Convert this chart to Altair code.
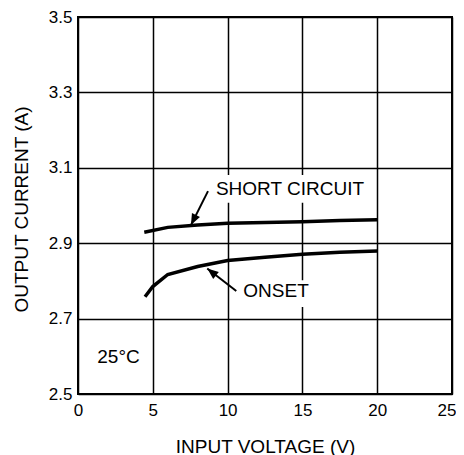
import altair as alt
import pandas as pd

# Curve data
sc_v = [4.43, 6.0, 8.0, 10.0, 12.5, 15.0, 17.5, 20.0]
sc_i = [2.929, 2.942, 2.948, 2.953, 2.955, 2.957, 2.960, 2.962]
on_v = [4.48, 5.0, 6.0, 8.0, 10.0, 12.5, 15.0, 17.5, 20.0]
on_i = [2.758, 2.785, 2.817, 2.838, 2.854, 2.863, 2.871, 2.876, 2.879]

x_ticks = [0, 5, 10, 15, 20, 25]
y_ticks = [2.5, 2.7, 2.9, 3.1, 3.3, 3.5]

# Annotations (data units)
labels = ["SHORT CIRCUIT", "ONSET", "25°C"]
label_x = [9.22, 11.05, 1.29]
label_y = [3.043, 2.774, 2.599]
box_x = [8.96, 10.7]
box_x2 = [19.5, 15.6]
box_y = [3.081, 2.802]
box_y2 = [3.007, 2.731]
arrow_tail_x = [8.69, 10.58]
arrow_tail_y = [3.038, 2.773]
arrow_tip_x = [7.55, 8.64]
arrow_tip_y = [2.948, 2.833]
arrow_angle = [206.6, 308.5]

FONT = "Liberation Sans"

curves = pd.DataFrame({
    "v": sc_v + on_v,
    "i": sc_i + on_i,
    "s": ["Short circuit"] * len(sc_v) + ["Onset"] * len(on_v),
})
texts = pd.DataFrame({"t": labels, "x": label_x, "y": label_y})
boxes = pd.DataFrame({"x": box_x, "x2": box_x2, "y": box_y, "y2": box_y2})
arrows = pd.DataFrame({"x": arrow_tail_x, "y": arrow_tail_y,
                       "x2": arrow_tip_x, "y2": arrow_tip_y, "a": arrow_angle})

xscale = alt.Scale(domain=[0, 25], nice=False, zero=False)
yscale = alt.Scale(domain=[2.5, 3.5], nice=False, zero=False)

xaxis = alt.Axis(values=x_ticks, title="INPUT VOLTAGE (V)", grid=True,
                 labelFlush=False, labelOverlap=False, labelBound=False,
                 labelAlign={"condition": {"test": "datum.value == 25", "value": "right"},
                             "value": "center"},
                 labelOffset={"condition": {"test": "datum.value == 25", "value": 4},
                              "value": 0},
                 tickSize=0, domain=False,
                 labelPadding=8, titleY=58, titleBaseline="alphabetic")
yaxis = alt.Axis(values=y_ticks, format=".1f", title="OUTPUT CURRENT (A)", grid=True,
                 labelFlush=False, labelOverlap=False, tickSize=0, domain=False,
                 labelPadding=6, titleX=-57, titleY=192, titleAngle=-90,
                 titleBaseline="middle", titleAlign="center")

lines = alt.Chart(curves).mark_line(color="black", strokeWidth=3.5).encode(
    x=alt.X("v:Q", scale=xscale, axis=xaxis),
    y=alt.Y("i:Q", scale=yscale, axis=yaxis),
    detail="s:N",
)

rects = alt.Chart(boxes).mark_rect(color="white").encode(
    x="x:Q", x2="x2:Q", y="y:Q", y2="y2:Q"
)

text = alt.Chart(texts).mark_text(align="left", baseline="middle", font=FONT,
                                   fontSize=19, color="black").encode(
    x="x:Q", y="y:Q", text="t:N"
)

shafts = alt.Chart(arrows).mark_rule(color="black", strokeWidth=2).encode(
    x="x:Q", y="y:Q", x2="x2:Q", y2="y2:Q"
)

heads = alt.Chart(arrows).mark_point(
    shape="M0,0L-0.4,1L0.4,1Z", filled=True, color="black", opacity=1, size=500
).encode(
    x="x2:Q", y="y2:Q", angle=alt.Angle("a:Q", scale=None)
)

chart = alt.layer(rects, lines, text, shafts, heads).properties(
    width=374, height=377,
    autosize=alt.AutoSizeParams(type="none"),
    padding={"left": 70, "top": 9, "right": 4, "bottom": 61},
).configure_view(
    stroke="black", strokeWidth=2
).configure_axis(
    gridColor="black", gridWidth=1.5, gridOpacity=1,
    labelFont=FONT, labelFontSize=17, labelColor="black",
    titleFont=FONT, titleFontSize=19, titleColor="black", titleFontWeight="normal",
)

chart.save("out.html", embed_options={"renderer": "svg", "actions": False})
